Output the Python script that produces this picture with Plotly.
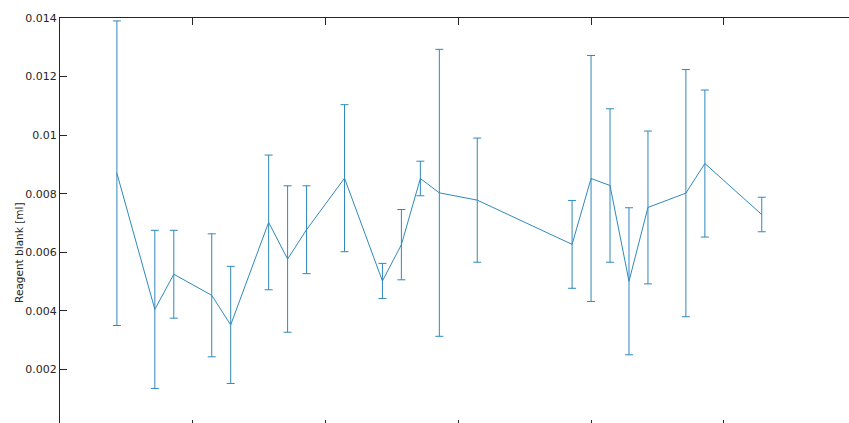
import plotly.graph_objects as go

# Measurement day, mean reagent blank and its +/- spread
days = [3, 5, 6, 8, 9, 11, 12, 13, 15, 17, 18, 19, 20, 22, 27, 28, 29, 30, 31, 33, 34, 37]
blank_ml = [0.0087, 0.00405, 0.00525, 0.00453, 0.00352, 0.00702, 0.00577, 0.00677,
            0.00853, 0.00502, 0.00626, 0.00852, 0.00803, 0.00778, 0.00627, 0.00852,
            0.00828, 0.00501, 0.00753, 0.00802, 0.00903, 0.00729]
spread_ml = [0.0052, 0.0027, 0.0015, 0.0021, 0.0020, 0.0023, 0.0025, 0.0015,
             0.00251, 0.0006, 0.0012, 0.00059, 0.0049, 0.00212, 0.0015, 0.0042,
             0.00262, 0.00251, 0.00261, 0.00422, 0.00251, 0.00059]

y_ticks = [0.002, 0.004, 0.006, 0.008, 0.010, 0.012, 0.014]
y_tick_text = ["0.002", "0.004", "0.006", "0.008", "0.01", "0.012", "0.014"]
x_ticks = [0, 7, 14, 21, 28, 35]

line_color = "#3089bb"
axis_color = "#262626"
x_range = [0, 41.6]
y_range = [0.00017, 0.014]

fig = go.Figure()
fig.add_trace(go.Scatter(
    x=days, y=blank_ml, mode="lines",
    line=dict(color=line_color, width=1),
    error_y=dict(type="data", array=spread_ml, visible=True,
                 color=line_color, thickness=1, width=4),
    showlegend=False, hoverinfo="skip",
))
# empty trace so the top axis is drawn
fig.add_trace(go.Scatter(x=[], y=[], xaxis="x2", showlegend=False, hoverinfo="skip"))

fig.update_layout(
    width=849, height=423,
    margin=dict(l=60, r=0, t=18, b=0),
    paper_bgcolor="white", plot_bgcolor="white",
    font=dict(family="DejaVu Sans", size=11, color=axis_color),
    xaxis=dict(range=x_range, tickvals=x_ticks, showticklabels=False,
               ticks="inside", ticklen=3, tickcolor=axis_color,
               showline=False, showgrid=False, zeroline=False),
    xaxis2=dict(range=x_range, tickvals=x_ticks, showticklabels=False,
                overlaying="x", side="top", anchor="y",
                ticks="inside", ticklen=7, tickcolor=axis_color,
                showline=True, linecolor=axis_color, linewidth=1,
                showgrid=False, zeroline=False),
    yaxis=dict(range=y_range, tickvals=y_ticks, ticktext=y_tick_text,
               ticks="inside", ticklen=7, tickcolor=axis_color,
               showline=True, linecolor=axis_color, linewidth=1,
               showgrid=False, zeroline=False,
               tickfont=dict(size=11, color=axis_color)),
    annotations=[dict(
        text="Reagent blank [ml]", textangle=-90,
        xref="paper", yref="paper", x=0, y=0.42, xshift=-41,
        xanchor="center", yanchor="middle", showarrow=False,
        font=dict(size=10.5, color=axis_color),
    )],
)

fig.write_html("out.html")
